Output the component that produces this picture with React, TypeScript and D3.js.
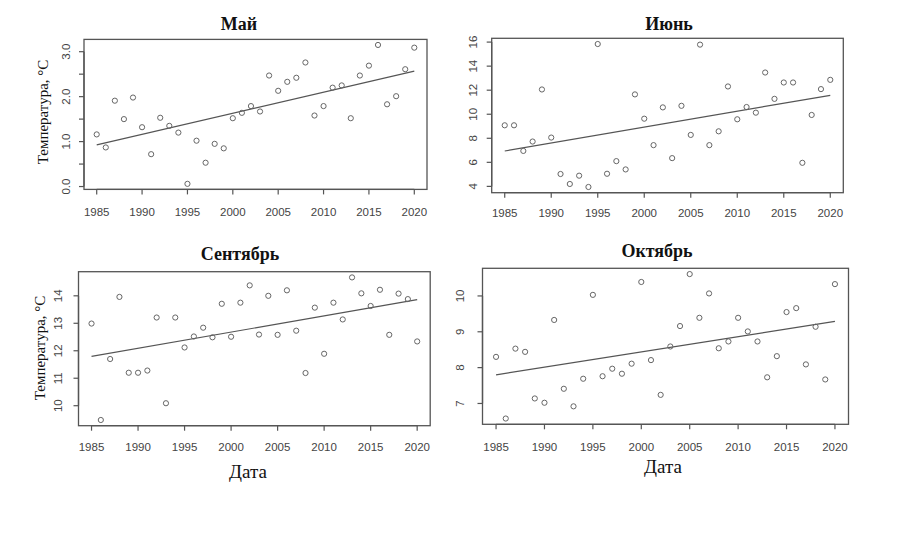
import React from 'react';
import * as d3 from 'd3';

// годы наблюдений
const years = [
  1985, 1986, 1987, 1988, 1989, 1990, 1991, 1992, 1993, 1994, 1995, 1996,
  1997, 1998, 1999, 2000, 2001, 2002, 2003, 2004, 2005, 2006, 2007, 2008,
  2009, 2010, 2011, 2012, 2013, 2014, 2015, 2016, 2017, 2018, 2019, 2020,
];

const mayValues = [
  1.16, 0.87, 1.91, 1.5, 1.98, 1.32, 0.72, 1.53, 1.35, 1.2, 0.06, 1.02,
  0.53, 0.95, 0.85, 1.52, 1.64, 1.79, 1.67, 2.47, 2.13, 2.33, 2.42, 2.76,
  1.58, 1.79, 2.2, 2.25, 1.52, 2.47, 2.69, 3.15, 1.83, 2.01, 2.61, 3.09,
];

const juneValues = [
  9.08, 9.08, 6.95, 7.73, 12.06, 8.06, 5.03, 4.2, 4.89, 3.95, 15.84, 5.05,
  6.1, 5.41, 11.65, 9.63, 7.43, 10.57, 6.35, 10.7, 8.28, 15.79, 7.43, 8.58,
  12.31, 9.58, 10.6, 10.13, 13.47, 11.28, 12.64, 12.64, 5.96, 9.94, 12.09, 12.86,
];

const septemberValues = [
  12.99, 9.48, 11.7, 13.96, 11.2, 11.2, 11.28, 13.21, 10.09, 13.21, 12.12, 12.52,
  12.84, 12.49, 13.71, 12.51, 13.75, 14.38, 12.59, 14.0, 12.58, 14.2, 12.73, 11.19,
  13.57, 11.89, 13.75, 13.14, 14.67, 14.09, 13.63, 14.22, 12.58, 14.08, 13.88, 12.34,
];

const octoberValues = [
  8.3, 6.58, 8.53, 8.44, 7.14, 7.02, 9.33, 7.41, 6.92, 7.69, 10.03, 7.76,
  7.97, 7.83, 8.11, 10.39, 8.21, 7.24, 8.59, 9.16, 10.61, 9.39, 10.07, 8.54,
  8.73, 9.39, 9.01, 8.73, 7.73, 8.32, 9.55, 9.66, 8.09, 9.14, 7.67, 10.33,
];

const titles = ['Май', 'Июнь', 'Сентябрь', 'Октябрь'];
const xTicks = [1985, 1990, 1995, 2000, 2005, 2010, 2015, 2020];
const mayTicks = [0, 0.5, 1, 1.5, 2, 2.5, 3];
const juneTicks = [4, 6, 8, 10, 12, 14, 16];
const septemberTicks = [10, 11, 12, 13, 14];
const octoberTicks = [7, 8, 9, 10];

const series = [mayValues, juneValues, septemberValues, octoberValues];
const yTicks = [mayTicks, juneTicks, septemberTicks, octoberTicks];

// расположение панелей (пиксели)
const layout = [
  { x0: 84, x1: 427, y0: 39.4, y1: 189.4, titleX: 239, titleY: 30, labX: 66, tickY: 216, yTitle: { x: 43, y: 112 }, xTitle: null },
  { x0: 491.7, x1: 843.3, y0: 38.3, y1: 192.7, titleX: 669, titleY: 30, labX: 473, tickY: 217, yTitle: null, xTitle: null },
  { x0: 78.5, x1: 430.2, y0: 271.7, y1: 425.7, titleX: 240, titleY: 260, labX: 57.5, tickY: 451, yTitle: { x: 40, y: 348 }, xTitle: { x: 248, y: 478 } },
  { x0: 482.5, x1: 848.5, y0: 268.3, y1: 424.3, titleX: 657, titleY: 257, labX: 460, tickY: 451, yTitle: null, xTitle: { x: 663, y: 473 } },
];

const padDomain = (vals: number[]): [number, number] => {
  const [lo, hi] = d3.extent(vals) as [number, number];
  const p = (hi - lo) * 0.04;
  return [lo - p, hi + p];
};

const fitLine = (xs: number[], ys: number[]) => {
  const mx = d3.mean(xs)!;
  const my = d3.mean(ys)!;
  let sxy = 0, sxx = 0;
  xs.forEach((x, i) => {
    sxy += (x - mx) * (ys[i] - my);
    sxx += (x - mx) * (x - mx);
  });
  const b = sxy / sxx;
  const a = my - b * mx;
  return (x: number) => a + b * x;
};

const SANS = 'Liberation Sans, Arial, sans-serif';
const SERIF = 'Liberation Serif, Times New Roman, serif';
const AXIS = '#555';
const TEXT = '#444';

const Panel: React.FC<{ i: number }> = ({ i }) => {
  const L = layout[i];
  const vals = series[i];
  const x = d3.scaleLinear().domain(padDomain(years)).range([L.x0, L.x1]);
  const y = d3.scaleLinear().domain(padDomain(vals)).range([L.y1, L.y0]);
  const fit = fitLine(years, vals);
  const xFirst = years[0];
  const xLast = years[years.length - 1];
  const ticksY = yTicks[i];
  const line = d3.line<number>().x((d) => x(d)).y((d) => y(fit(d)));
  const fmt = i === 0 ? d3.format('.1f') : d3.format('d');
  const labelled = (t: number) => (i === 0 ? Number.isInteger(t) : true);

  return (
    <g>
      <text x={L.titleX} y={L.titleY} textAnchor="middle" fontFamily={SERIF} fontWeight="bold" fontSize={18} fill="#111">
        {titles[i]}
      </text>
      <rect x={L.x0} y={L.y0} width={L.x1 - L.x0} height={L.y1 - L.y0} fill="none" stroke={AXIS} strokeWidth={1.3} />
      {/* ось X */}
      <line x1={x(xFirst)} x2={x(xLast)} y1={L.y1} y2={L.y1} stroke={AXIS} strokeWidth={1.3} />
      {xTicks.map((t) => (
        <g key={t}>
          <line x1={x(t)} x2={x(t)} y1={L.y1} y2={L.y1 + 5} stroke={AXIS} strokeWidth={1.2} />
          <text x={x(t)} y={L.tickY} textAnchor="middle" fontFamily={SANS} fontSize={11.5} fill={TEXT}>
            {t}
          </text>
        </g>
      ))}
      {/* ось Y */}
      <line x1={L.x0} x2={L.x0} y1={y(ticksY[0])} y2={y(ticksY[ticksY.length - 1])} stroke={AXIS} strokeWidth={1.3} />
      {ticksY.map((t) => (
        <g key={t}>
          <line x1={L.x0 - 5} x2={L.x0} y1={y(t)} y2={y(t)} stroke={AXIS} strokeWidth={1.2} />
          {labelled(t) && (
            <text
              transform={`translate(${L.labX},${y(t)}) rotate(-90)`}
              textAnchor="middle"
              dy="0.35em"
              fontFamily={SANS}
              fontSize={11.5}
              fill={TEXT}
            >
              {fmt(t)}
            </text>
          )}
        </g>
      ))}
      <path d={line([xFirst, xLast]) ?? ''} fill="none" stroke="#555" strokeWidth={1.2} />
      {vals.map((v, k) => (
        <circle key={k} cx={x(years[k])} cy={y(v)} r={2.6} fill="none" stroke="#666" strokeWidth={1} />
      ))}
      {L.yTitle && (
        <text
          transform={`translate(${L.yTitle.x},${L.yTitle.y}) rotate(-90)`}
          textAnchor="middle"
          dy="0.35em"
          fontFamily={SERIF}
          fontSize={15}
          fill="#111"
        >
          Температура, °C
        </text>
      )}
      {L.xTitle && (
        <text x={L.xTitle.x} y={L.xTitle.y} textAnchor="middle" fontFamily={SERIF} fontSize={19} fill="#111">
          Дата
        </text>
      )}
    </g>
  );
};

export default function App() {
  return (
    <svg width={899} height={533} style={{ position: 'absolute', left: 0, top: 0, background: '#fff' }}>
      <rect width={899} height={533} fill="#fff" />
      {titles.map((_, i) => (
        <Panel key={i} i={i} />
      ))}
    </svg>
  );
}
